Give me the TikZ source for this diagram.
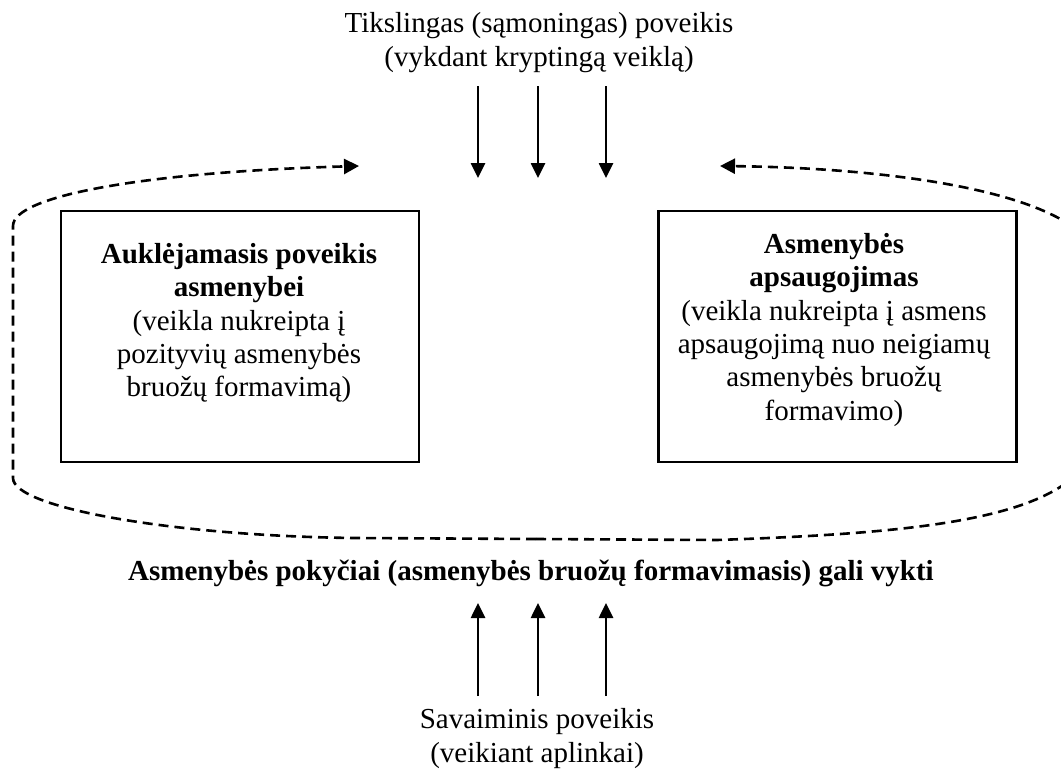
\documentclass[tikz,border=0pt]{standalone}
\usepackage{fontspec}
\setmainfont{Liberation Serif}
\usetikzlibrary{arrows.meta}
\tikzset{
  box/.style={draw, line width=2.8pt, inner sep=0pt, minimum height=251pt},
  txt/.style={font=\fontsize{29}{33.4}\selectfont, align=center, inner sep=0pt},
  line/.style={font=\fontsize{29}{33.4}\selectfont, inner sep=0pt, anchor=base},
  arr/.style={line width=2.6pt, -{Triangle[length=15pt,width=14pt]}},
  dasharr/.style={line width=2.6pt, dash pattern=on 10pt off 6pt, -{Triangle[length=15pt,width=15pt]}}
}
\begin{document}
\begin{tikzpicture}[x=1pt,y=-1pt]
\fontsize{29}{33.4}\selectfont
\useasboundingbox (0,0) rectangle (1061,774);
\clip (0,0) rectangle (1061,774);
\fill[white] (0,0) rectangle (1061,774);

% top caption
\node[line] (top1) at (539,32) {Tikslingas (sąmoningas) poveikis};
\node[line] (top2) at (539,66) {(vykdant kryptingą veiklą)};

% boxes
\node[box, minimum width=358pt] (b1) at (240,336.5) {};
\node[box, minimum width=358pt] (b2) at (837.5,336.5) {};
\node[txt, anchor=north] (t1) at (239,243) {\textbf{Auklėjamasis poveikis}\\\textbf{asmenybei}\\(veikla nukreipta į\\pozityvių asmenybės\\bruožų formavimą)};
\node[txt, anchor=north] (t2) at (834,233) {\textbf{Asmenybės}\\\textbf{apsaugojimas}\\(veikla nukreipta į asmens\\apsaugojimą nuo neigiamų\\asmenybės bruožų\\formavimo)};

% bold middle caption
\node[line, font=\fontsize{29}{33.4}\selectfont\bfseries] (mid) at (531,580) {Asmenybės pokyčiai (asmenybės bruožų formavimasis) gali vykti};

% bottom caption
\node[line] (bot1) at (537,728) {Savaiminis poveikis};
\node[line] (bot2) at (537,762) {(veikiant aplinkai)};

% arrows
\foreach \x [count=\i] in {478,538,606}{
  \coordinate (ds\i) at (\x,86);
  \coordinate (de\i) at (\x,178);
  \coordinate (us\i) at (\x,696);
  \coordinate (ue\i) at (\x,603);
  \draw[arr] (ds\i) -- (de\i);
  \draw[arr] (us\i) -- (ue\i);
}

% dashed loop
\coordinate (bm) at (536,539);
\coordinate (lt) at (359,166);
\coordinate (rt) at (720,166);
\draw[dasharr] (bm) -- (355,538) .. controls (175,536) and (13,508) .. (13,478)
  -- (13,226) .. controls (13,195) and (150,172) .. (lt);
\draw[dasharr] (bm) -- (717,540) .. controls (950,532) and (1100,515) .. (1100,420)
  -- (1100,270) .. controls (1100,195) and (900,168) .. (rt);
\end{tikzpicture}
\end{document}
